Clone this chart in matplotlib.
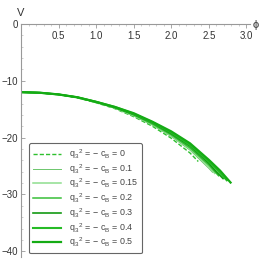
import matplotlib
matplotlib.use("Agg")
from matplotlib import pyplot as plt

plt.rcParams['font.family'] = ['Liberation Sans', 'DejaVu Sans']
plt.rcParams['mathtext.default'] = 'regular'

cb_values = ["0", "0.1", "0.15", "0.2", "0.3", "0.4", "0.5"]

phi_0 = [0, 0.25, 0.5, 0.75, 1.0, 1.25, 1.5, 1.75, 2.0, 2.25, 2.36]
v_0 = [-12.0, -12.1, -12.45, -13.0, -13.85, -14.9, -16.3, -18.0, -20.1, -22.7, -24.2]
phi_01 = [0, 0.25, 0.5, 0.75, 1.0, 1.25, 1.5, 1.75, 2.0, 2.25, 2.5, 2.55]
v_01 = [-12.0, -12.1, -12.4, -12.9, -13.8, -14.8, -16.2, -17.8, -19.8, -22.2, -25.4, -26.1]
phi_015 = [0, 0.25, 0.5, 0.75, 1.0, 1.25, 1.5, 1.75, 2.0, 2.25, 2.5, 2.58]
v_015 = [-12.0, -12.1, -12.4, -12.9, -13.8, -14.8, -16.1, -17.7, -19.6, -22.0, -25.1, -26.3]
phi_02 = [0, 0.25, 0.5, 0.75, 1.0, 1.25, 1.5, 1.75, 2.0, 2.25, 2.5, 2.63]
v_02 = [-12.0, -12.1, -12.4, -12.9, -13.8, -14.7, -16.0, -17.6, -19.5, -21.8, -24.8, -26.7]
phi_03 = [0, 0.25, 0.5, 0.75, 1.0, 1.25, 1.5, 1.75, 2.0, 2.25, 2.5, 2.6, 2.69]
v_03 = [-12.0, -12.1, -12.4, -12.9, -13.7, -14.7, -15.9, -17.4, -19.3, -21.5, -24.5, -26.0, -27.2]
phi_04 = [0, 0.25, 0.5, 0.75, 1.0, 1.25, 1.5, 1.75, 2.0, 2.25, 2.5, 2.62, 2.74]
v_04 = [-12.0, -12.1, -12.4, -12.9, -13.7, -14.6, -15.8, -17.3, -19.1, -21.3, -24.2, -25.8, -27.5]
phi_05 = [0, 0.25, 0.5, 0.75, 1.0, 1.25, 1.5, 1.75, 2.0, 2.25, 2.5, 2.65, 2.79]
v_05 = [-12.0, -12.1, -12.4, -12.9, -13.7, -14.6, -15.7, -17.2, -18.9, -21.0, -23.9, -25.8, -27.9]

all_phi = [phi_0, phi_01, phi_015, phi_02, phi_03, phi_04, phi_05]
all_v = [v_0, v_01, v_015, v_02, v_03, v_04, v_05]
colors = ["#2ec02e", "#6cc66c", "#8ede8e", "#38bf38", "#139a13", "#26bb26", "#14ab14"]
widths = [1.0, 0.7, 1.1, 1.1, 1.2, 1.5, 1.6]
styles = ["--", "-", "-", "-", "-", "-", "-"]

fig = plt.figure(figsize=(2.67, 2.67), dpi=100)
ax = fig.add_axes([0.0787, 0.0375, 0.858, 0.8727])

for phi, v, c, w, s, cb in zip(all_phi, all_v, colors, widths, styles, cb_values):
    lbl = r"$q_3{}^{\,2}$ = " + "\u2212" + r" $c_B$ = " + cb
    line, = ax.plot(phi, v, color=c, lw=w, ls=s, label=lbl)
    if s == "--":
        line.set_dashes((3, 1.5))

ax.set_xlim(0, 3.05)
ax.set_ylim(-41, 0)

for side in ["top", "right"]:
    ax.spines[side].set_visible(False)
ax.spines["bottom"].set_position(("data", 0))
for side in ["bottom", "left"]:
    ax.spines[side].set_color("#999999")
    ax.spines[side].set_linewidth(0.8)

ax.set_xticks([0.5, 1.0, 1.5, 2.0, 2.5, 3.0])
ax.set_xticklabels(["0.5", "1.0", "1.5", "2.0", "2.5", "3.0"])
ax.set_xticks([0.1 * i for i in range(1, 31)], minor=True)
ax.set_yticks([0, -10, -20, -30, -40])
ax.set_yticklabels(["0", "\u221210", "\u221220", "\u221230", "\u221240"])
ax.set_yticks([-2 * i for i in range(0, 21)], minor=True)
ax.tick_params(which="major", direction="in", length=3, width=0.6, color="#999999",
               labelsize=7, pad=2, labelcolor="#333333")
ax.tick_params(which="minor", direction="in", length=1.5, width=0.5, color="#bbbbbb")
ax.tick_params(axis="x", which="both", direction="out")

ax.text(0.0, 1.025, "V", transform=ax.transAxes, fontsize=8, color="#333333",
        ha="center", va="bottom")
ax.text(1.01, 0.995, "\u03d5", transform=ax.transAxes, fontsize=8, color="#333333",
        ha="left", va="center")

leg = ax.legend(loc="lower left", bbox_to_anchor=(0.035, 0.015), borderaxespad=0,
                fontsize=6.4, handlelength=3.1, handletextpad=0.9, labelspacing=0.12,
                frameon=True, fancybox=True, edgecolor="#666666", framealpha=1,
                borderpad=0.45)
leg.get_frame().set_linewidth(0.8)
for t in leg.get_texts():
    t.set_color("#444444")

fig.savefig("out.png", dpi=100)
